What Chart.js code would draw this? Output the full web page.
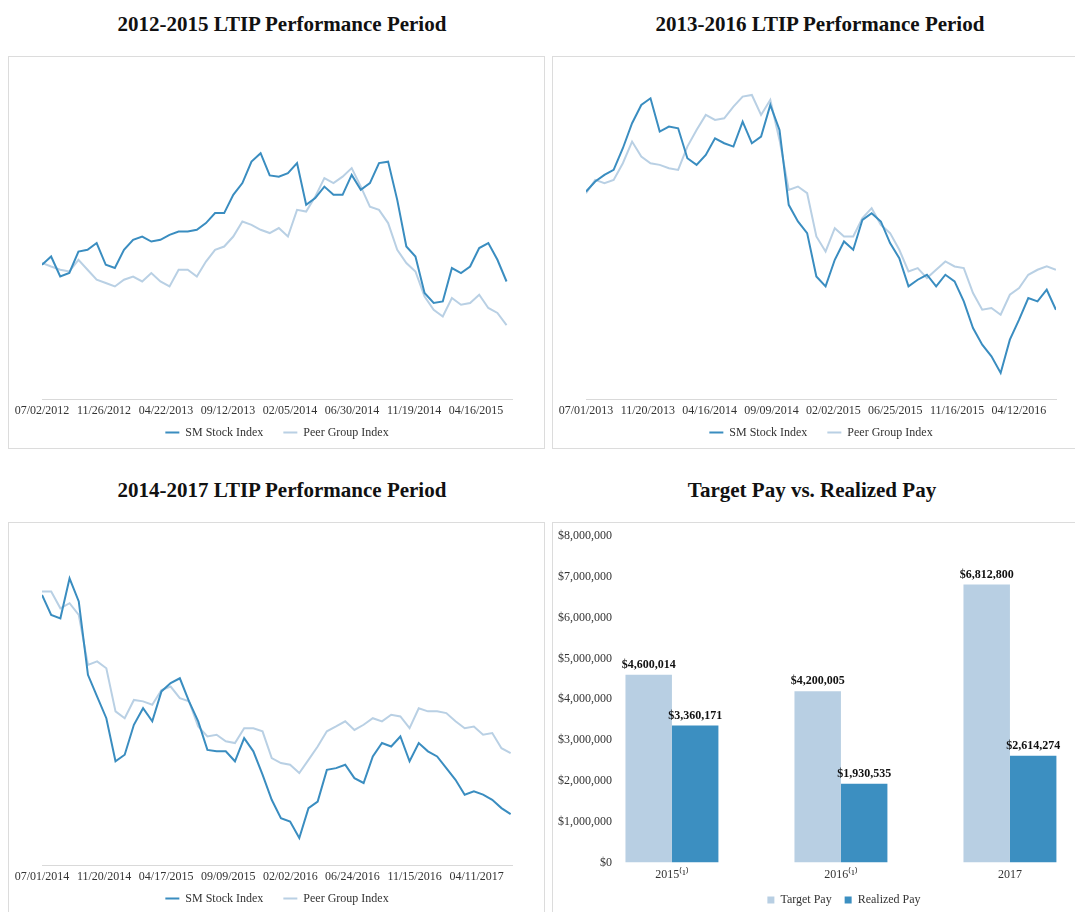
<!DOCTYPE html>
<html>
<head>
<meta charset="utf-8">
<script src="https://cdn.jsdelivr.net/npm/chart.js@4.4.1/dist/chart.umd.min.js"></script>
<style>
    html, body { margin: 0; padding: 0; background: #fff; overflow: hidden; width: 1075px; height: 912px; }
    .title { position: absolute; width: 500px; text-align: center; font: bold 21px 'Liberation Serif', 'Times New Roman', serif; color: #111; line-height: 24px; }
    .box { position: absolute; border: 1px solid #dcdcdc; box-sizing: border-box; }
    canvas { position: absolute; }
</style>
</head>
<body>
<div class="title" style="left:32px;top:12px">2012-2015 LTIP Performance Period</div>
<div class="title" style="left:570px;top:12px">2013-2016 LTIP Performance Period</div>
<div class="title" style="left:32px;top:478px">2014-2017 LTIP Performance Period</div>
<div class="title" style="left:562px;top:478px">Target Pay vs. Realized Pay</div>

<div class="box" style="left:8px;top:56px;width:537px;height:393px"></div>
<div class="box" style="left:552px;top:56px;width:560px;height:393px"></div>
<div class="box" style="left:8px;top:522px;width:537px;height:420px"></div>
<div class="box" style="left:552px;top:522px;width:620px;height:420px"></div>

<canvas id="chart_2012" width="535" height="407" style="left:9px;top:57px"></canvas>
<canvas id="chart_2013" width="535" height="407" style="left:553px;top:57px"></canvas>
<canvas id="chart_2014" width="535" height="407" style="left:9px;top:523px"></canvas>
<canvas id="chart_pay" width="582" height="399" style="left:553px;top:523px"></canvas>

<script>
// index readings taken at a fixed spacing of trading days (about 15), start of period = ~100

const ticks_2012 = ['07/02/2012', '11/26/2012', '04/22/2013', '09/12/2013', '02/05/2014', '06/30/2014', '11/19/2014', '04/16/2015'];
const sm_2012 = [99.2, 102.5, 94.5, 95.9, 104.5, 105.2, 107.9, 99.2, 97.9, 105.2, 109.2, 110.5, 108.5, 109.2, 111.2, 112.5,
    112.5, 113.2, 115.9, 119.9, 119.9, 127.2, 131.9, 140.5, 143.9, 135.0, 134.5, 135.9, 139.9, 123.2, 125.9, 130.5,
    127.2, 127.2, 135.2, 129.2, 131.9, 139.9, 140.5, 125.2, 106.5, 102.5, 87.9, 83.9, 84.5, 97.9, 95.9, 98.5,
    105.9, 107.9, 101.2, 92.5];
const peer_2012 = [99.9, 98.5, 97.2, 96.5, 101.2, 97.2, 93.2, 91.9, 90.5, 93.2, 94.5, 92.5, 95.9, 92.5, 90.5, 97.2,
    97.2, 94.5, 100.5, 105.2, 106.5, 110.5, 116.5, 115.2, 113.2, 111.9, 113.9, 110.5, 121.2, 120.5, 126.5, 133.9,
    131.9, 134.5, 137.9, 130.5, 122.5, 121.2, 115.9, 105.2, 99.9, 96.5, 86.5, 81.2, 78.5, 85.9, 83.2, 83.9,
    87.2, 81.9, 79.9, 75.0];

const ticks_2013 = ['07/01/2013', '11/20/2013', '04/16/2014', '09/09/2014', '02/02/2015', '06/25/2015', '11/16/2015', '04/12/2016'];
const sm_2013 = [100.4, 103.4, 105.4, 106.9, 113.4, 120.9, 126.4, 128.4, 118.4, 119.9, 119.4, 110.4, 108.4, 111.4, 116.4, 114.9,
    113.9, 121.4, 114.9, 116.9, 126.4, 118.9, 96.4, 91.4, 87.9, 74.9, 71.9, 79.9, 85.4, 82.9, 91.9, 93.9,
    91.4, 84.9, 80.4, 71.9, 73.9, 75.4, 71.9, 75.4, 73.4, 67.4, 59.4, 54.4, 50.9, 45.9, 55.9, 61.9,
    68.4, 67.4, 70.9, 64.9];
const peer_2013 = [99.9, 103.9, 102.9, 103.9, 108.9, 115.4, 110.9, 108.9, 108.4, 107.4, 106.9, 113.9, 118.9, 123.4, 121.9, 122.4,
    125.9, 128.9, 129.4, 123.4, 127.9, 115.9, 100.9, 101.9, 99.9, 86.9, 82.4, 89.4, 86.9, 86.9, 92.4, 95.4,
    90.4, 87.9, 82.9, 76.4, 77.4, 74.4, 76.9, 79.4, 77.9, 77.4, 69.9, 64.9, 65.4, 63.4, 69.4, 71.4,
    75.4, 76.9, 77.9, 76.9];

const ticks_2014 = ['07/01/2014', '11/20/2014', '04/17/2015', '09/09/2015', '02/02/2016', '06/24/2016', '11/15/2016', '04/11/2017'];
const sm_2014 = [100.0, 93.0, 91.8, 105.8, 97.7, 72.0, 64.4, 56.8, 41.7, 44.0, 54.5, 60.3, 55.7, 66.2, 69.1, 70.8,
    62.7, 55.7, 45.7, 45.2, 45.2, 41.7, 49.8, 45.2, 37.0, 28.2, 21.8, 20.6, 14.8, 25.3, 27.6, 38.7,
    39.3, 40.5, 35.8, 34.1, 43.4, 48.1, 46.9, 50.4, 41.7, 48.1, 45.2, 43.4, 39.3, 35.2, 30.0, 31.2,
    30.0, 28.2, 25.3, 23.2];
const peer_2014 = [101.2, 101.2, 95.3, 97.1, 93.0, 75.5, 76.7, 74.3, 59.2, 56.8, 63.2, 62.7, 61.5, 66.7, 67.9, 63.8,
    62.7, 53.9, 50.4, 51.0, 48.7, 48.1, 53.3, 53.3, 52.2, 42.8, 41.1, 40.5, 37.6, 42.2, 46.9, 52.2,
    53.9, 55.7, 52.7, 54.5, 56.8, 55.7, 58.0, 57.4, 53.3, 60.3, 59.2, 59.2, 58.6, 55.7, 53.3, 53.9,
    51.0, 51.6, 46.3, 44.6];

const pay_years = ['2015\u207D\u00B9\u207E', '2016\u207D\u00B9\u207E', '2017'];
const target_pay = [4600014, 4200005, 6812800];
const realized_pay = [3360171, 1930535, 2614274];

const FONT = "'Liberation Serif', 'Times New Roman', serif";
const SM_COLOR = '#3a8dc0';
const PEER_COLOR = '#b9d0e4';

Chart.defaults.font.family = FONT;
Chart.defaults.font.size = 12;
Chart.defaults.color = '#333';
Chart.defaults.animation = false;

// moves the legend up/down after layout, so its padding doesn't push the axis
const legendShift = {
    id: 'legendShift',
    afterLayout(chart, args, opts) {
        chart.legend.top += opts.dy;
        chart.legend.bottom += opts.dy;
    }
};

function points(values, step) {
    return values.map((v, i) => ({ x: i * step, y: v }));
}

function lineConfig(tickLabels, sm, peer, step, lastDay, yMin, yMax) {
    return {
        type: 'line',
        data: {
            datasets: [{
                label: 'SM Stock Index',
                data: points(sm, step),
                borderColor: SM_COLOR,
                backgroundColor: SM_COLOR,
                borderWidth: 2,
                pointRadius: 0,
                tension: 0
            }, {
                label: 'Peer Group Index',
                data: points(peer, step),
                borderColor: PEER_COLOR,
                backgroundColor: PEER_COLOR,
                borderWidth: 2,
                pointRadius: 0,
                tension: 0
            }]
        },
        options: {
            responsive: false,
            layout: {
                padding: { left: 33, right: 32, top: 13, bottom: 0 }
            },
            plugins: {
                legend: {
                    position: 'bottom',
                    labels: {
                        usePointStyle: true,
                        pointStyle: 'line',
                        pointStyleWidth: 14,
                        padding: 20
                    }
                },
                legendShift: { dy: -15.4 },
                tooltip: { enabled: false }
            },
            scales: {
                x: {
                    type: 'linear',
                    min: 0,
                    max: lastDay,
                    grid: { display: false, drawTicks: false },
                    border: { display: true, color: '#d9d9d9', width: 1 },
                    ticks: {
                        stepSize: 100,
                        includeBounds: false,
                        autoSkip: false,
                        maxRotation: 0,
                        padding: 4,
                        callback: (v) => tickLabels[v / 100] || ''
                    }
                },
                y: {
                    display: false,
                    min: yMin,
                    max: yMax
                }
            }
        },
        plugins: [legendShift]
    };
}

new Chart(document.getElementById('chart_2012'), lineConfig(ticks_2012, sm_2012, peer_2012, 14.69, 758, 45.2, 177.2));
new Chart(document.getElementById('chart_2013'), lineConfig(ticks_2013, sm_2013, peer_2013, 14.9, 760, 37.9, 136.9));
new Chart(document.getElementById('chart_2014'), lineConfig(ticks_2014, sm_2014, peer_2014, 14.8, 757, 5.15, 120.65));

function money(v) {
    return '$' + v.toLocaleString('en-US');
}

const barValueLabels = {
    id: 'barValueLabels',
    afterDatasetsDraw(chart) {
        const ctx = chart.ctx;
        ctx.save();
        ctx.font = 'bold 12px ' + FONT;
        ctx.fillStyle = '#111';
        ctx.textAlign = 'center';
        ctx.textBaseline = 'bottom';
        chart.data.datasets.forEach((ds, i) => {
            chart.getDatasetMeta(i).data.forEach((bar, j) => {
                ctx.fillText(money(ds.data[j].y), bar.x, bar.y - 4);
            });
        });
        ctx.restore();
    }
};

const pay_chart = new Chart(document.getElementById('chart_pay'), {
    type: 'bar',
    data: {
        datasets: [{
            label: 'Target Pay',
            data: target_pay.map((v, i) => ({ x: i, y: v })),
            backgroundColor: '#b8cfe3'
        }, {
            label: 'Realized Pay',
            data: realized_pay.map((v, i) => ({ x: i, y: v })),
            backgroundColor: '#3c8fc1'
        }]
    },
    options: {
        responsive: false,
        categoryPercentage: 0.55,
        barPercentage: 1.0,
        layout: {
            padding: { left: 0, right: 0, top: 13, bottom: 0 }
        },
        plugins: {
            legend: {
                position: 'bottom',
                labels: { boxWidth: 7, boxHeight: 7, padding: 13 }
            },
            legendShift: { dy: -6 },
            tooltip: { enabled: false }
        },
        scales: {
            x: {
                type: 'linear',
                offset: false,
                min: -0.331,
                max: 2.74,
                grid: { display: false, drawTicks: false },
                border: { display: false },
                ticks: {
                    stepSize: 1,
                    includeBounds: false,
                    autoSkip: false,
                    maxRotation: 0,
                    padding: 5,
                    callback: (v) => pay_years[v] || ''
                }
            },
            y: {
                min: 0,
                max: 8000000,
                grid: { display: false, drawTicks: false },
                border: { display: false },
                afterFit: (scale) => { scale.width = 63; },
                ticks: {
                    stepSize: 1000000,
                    padding: 4,
                    callback: (v) => money(v)
                }
            }
        }
    },
    plugins: [barValueLabels, legendShift]
});
</script>
</body>
</html>
